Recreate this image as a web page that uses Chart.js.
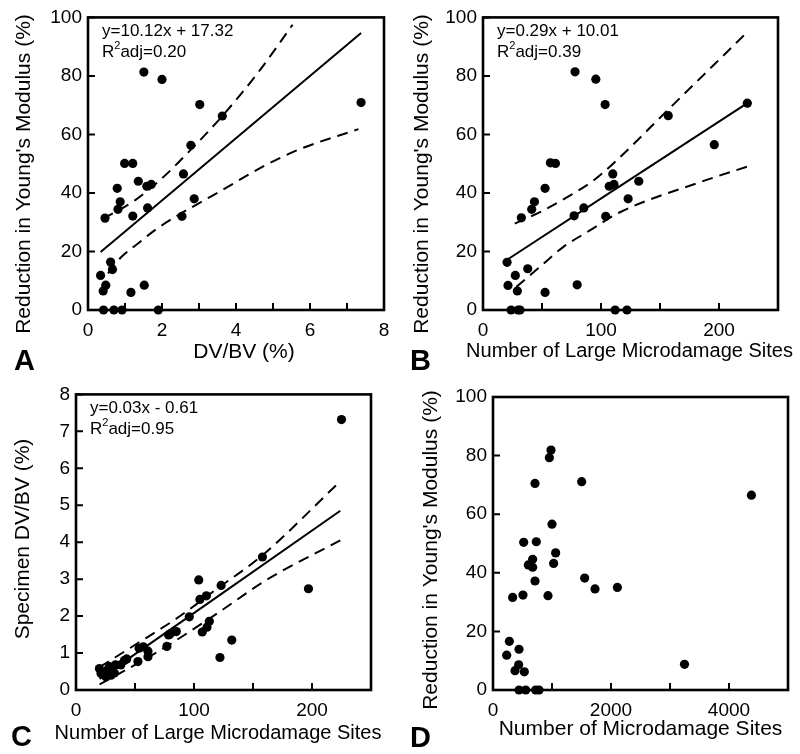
<!DOCTYPE html>
<html>
<head>
<meta charset="utf-8">
<script src="https://cdn.jsdelivr.net/npm/chart.js@4/dist/chart.umd.min.js"></script>
<style>
  body { margin: 0; background: #fff; }
  #wrap { position: relative; width: 800px; height: 754px; }
  canvas { position: absolute; }
  .tag { position: absolute; font: bold 29px 'Liberation Sans', Arial, sans-serif; line-height: 1; color: #000; }
</style>
</head>
<body>
<div id="wrap">
  <canvas id="chartA" width="400" height="377" style="left:0;top:0"></canvas>
  <canvas id="chartB" width="400" height="377" style="left:400px;top:0"></canvas>
  <canvas id="chartC" width="400" height="377" style="left:0;top:377px"></canvas>
  <canvas id="chartD" width="400" height="377" style="left:400px;top:377px"></canvas>
  <div class="tag" style="left:14px;top:346px">A</div>
  <div class="tag" style="left:410px;top:346px">B</div>
  <div class="tag" style="left:11px;top:722px">C</div>
  <div class="tag" style="left:410px;top:723px">D</div>
</div>
<script>
// Panel A: DV/BV vs reduction in modulus
const dvbvA = [1.51, 2.00, 3.02, 7.38, 3.63, 2.78, 0.99, 1.21, 2.58, 1.36, 1.59, 1.71, 0.79, 0.87, 0.81, 1.61, 2.87, 0.46, 1.21, 2.54, 0.61, 0.66, 0.34, 0.48, 0.41, 1.16, 1.52, 0.42, 0.70, 0.92, 1.90];
const modA = [81.3, 78.8, 70.2, 70.9, 66.3, 56.3, 50.1, 50.1, 46.5, 44.0, 42.3, 42.9, 41.6, 37.0, 34.4, 34.9, 38.0, 31.4, 32.1, 32.0, 16.4, 13.8, 11.8, 8.5, 6.5, 6.0, 8.5, 0, 0, 0, 0];
const fitAx = [0.34, 7.38], fitAy = [19.8, 94.7];
const upAx = [0.41, 1.26, 2.0, 2.78, 3.63, 4.6, 5.53], upAy = [31.2, 37.4, 45.0, 54.8, 66.3, 81.2, 97.5];
const loAx = [0.54, 0.9, 1.35, 1.8, 2.34, 2.97, 3.6, 4.8, 5.73, 7.31], loAy = [12.5, 18.1, 22.7, 27.2, 31.7, 36.3, 40.8, 49.5, 55.0, 61.8];

// Panel B: large microdamage sites vs reduction in modulus
const largeB = [78, 95.6, 103.5, 224, 157, 196, 57.1, 61.4, 110, 132, 107, 111, 52.6, 43.6, 41.3, 85.4, 123, 32.5, 77.2, 104, 20.4, 37.9, 27.4, 21.2, 29.1, 52.6, 79.8, 23.8, 29.7, 31.4, 112, 122];
const modB = [81.4, 78.9, 70.2, 70.7, 66.4, 56.5, 50.3, 50.1, 46.5, 44.0, 42.3, 42.9, 41.6, 37.0, 34.4, 34.9, 38.0, 31.5, 32.2, 32.0, 16.3, 14.1, 11.8, 8.4, 6.5, 6.0, 8.6, 0, 0, 0, 0, 0];
const fitBx = [19.8, 224], fitBy = [17.0, 70.7];
const upBx = [26.9, 50.9, 73.6, 93.4, 110, 157, 224], upBy = [29.5, 34.0, 39.1, 44.2, 49.9, 68.5, 95.0];
const loBx = [28.3, 48.1, 67.9, 90.6, 116, 184, 224], loBy = [7.9, 14.7, 21.5, 27.2, 33.4, 43.7, 49.0];

// Panel C: large microdamage sites vs DV/BV
const largeC = [225, 158, 104, 197, 123, 105, 110.5, 96, 113, 111, 107, 132, 122, 85, 78.5, 80, 77, 53.5, 57, 61, 61, 52.5, 43, 41, 38, 33.5, 32.5, 28.2, 26.8, 19.8, 21.2, 25.4, 29.7];
const dvbvC = [7.32, 3.60, 2.98, 2.74, 2.83, 2.45, 2.55, 1.98, 1.86, 1.70, 1.57, 1.35, 0.88, 1.58, 1.49, 1.52, 1.18, 1.13, 1.17, 1.05, 0.90, 0.77, 0.84, 0.80, 0.68, 0.68, 0.46, 0.63, 0.54, 0.58, 0.45, 0.36, 0.40];
const fitCx = [20, 224], fitCy = [0.30, 4.85];
const upCx = [20, 60, 85, 120, 157, 224], upCy = [0.62, 1.42, 1.93, 2.75, 3.62, 5.65];
const loCx = [20, 70, 120, 160, 224], loCy = [0.15, 1.05, 2.08, 2.95, 4.05];

// Panel D: all microdamage sites vs reduction in modulus
const sitesD = [983, 955, 712, 1503, 4380, 1000, 520, 734, 1062, 672, 599, 672, 1028, 712, 1554, 1729, 2108, 333, 508, 932, 277, 441, 232, 435, 373, 531, 3246, 441, 554, 723, 780];
const modD = [81.9, 79.3, 70.5, 71.1, 66.5, 56.6, 50.4, 50.6, 46.8, 44.6, 42.7, 41.9, 43.2, 37.2, 38.2, 34.5, 35.0, 31.6, 32.4, 32.2, 16.6, 13.9, 11.9, 8.6, 6.6, 6.2, 8.75, 0, 0, 0, 0];

const FONT = "'Liberation Sans', Arial, sans-serif";
const modTitle = "Reduction in Young's Modulus (%)";

function pts(xs, ys) {
  return xs.map((x, i) => ({ x: x, y: ys[i] }));
}

// box around plot + ticks pointing inward
const framePlugin = {
  id: 'frame',
  afterDraw(chart) {
    const { ctx, chartArea: a, scales } = chart;
    ctx.save();
    ctx.strokeStyle = '#000';
    ctx.lineWidth = 2;
    ctx.beginPath();
    scales.x.ticks.forEach(t => {
      const px = scales.x.getPixelForValue(t.value);
      ctx.moveTo(px, a.bottom);
      ctx.lineTo(px, a.bottom - 7);
    });
    scales.y.ticks.forEach(t => {
      const py = scales.y.getPixelForValue(t.value);
      ctx.moveTo(a.left, py);
      ctx.lineTo(a.left + 7, py);
    });
    ctx.stroke();
    ctx.lineWidth = 2.6;
    ctx.strokeRect(a.left, a.top, a.right - a.left, a.bottom - a.top);
    ctx.restore();
  }
};

// axis titles drawn at full width (they run past the plot box in the original)
const titlePlugin = {
  id: 'axisTitles',
  afterDraw(chart, args, o) {
    if (!o.x) return;
    const ctx = chart.ctx;
    ctx.save();
    ctx.fillStyle = '#000';
    ctx.textAlign = 'center';
    ctx.textBaseline = 'middle';
    ctx.font = o.x.size + 'px ' + FONT;
    ctx.fillText(o.x.text, o.x.cx, o.x.cy);
    ctx.translate(o.y.cx, o.y.cy);
    ctx.rotate(-Math.PI / 2);
    ctx.font = o.y.size + 'px ' + FONT;
    ctx.fillText(o.y.text, 0, 0);
    ctx.restore();
  }
};

// regression equation text in upper-left corner
const eqPlugin = {
  id: 'eq',
  afterDraw(chart, args, opts) {
    if (!opts.line1) return;
    const { ctx, chartArea: a } = chart;
    const x = a.left + 14;
    ctx.save();
    ctx.fillStyle = '#000';
    ctx.textBaseline = 'alphabetic';
    ctx.font = '17px ' + FONT;
    ctx.fillText(opts.line1, x, a.top + 19);
    ctx.fillText('R', x, a.top + 40);
    let w = ctx.measureText('R').width;
    ctx.font = '11px ' + FONT;
    ctx.fillText('2', x + w, a.top + 32);
    w += ctx.measureText('2').width;
    ctx.font = '17px ' + FONT;
    ctx.fillText('adj=' + opts.r2, x + w, a.top + 40);
    ctx.restore();
  }
};

function lineSet(xs, ys, dashed) {
  return {
    data: pts(xs, ys),
    showLine: true,
    pointRadius: 0,
    borderColor: '#000',
    borderWidth: 2,
    borderDash: dashed ? [11, 7] : [],
    cubicInterpolationMode: 'monotone',
    clip: 6
  };
}

function dotSet(xs, ys) {
  return {
    data: pts(xs, ys),
    pointRadius: 4.6,
    pointBackgroundColor: '#000',
    pointBorderWidth: 0,
    showLine: false,
    clip: false
  };
}

function makeChart(id, p) {
  return new Chart(document.getElementById(id), {
    type: 'scatter',
    data: { datasets: p.datasets },
    options: {
      responsive: false,
      animation: false,
      events: [],
      layout: { padding: { left: 0, right: p.padR, top: p.padT, bottom: 0 } },
      plugins: {
        legend: { display: false },
        tooltip: { enabled: false },
        eq: p.eq || {},
        axisTitles: p.titles
      },
      scales: {
        x: {
          type: 'linear', min: p.xMin, max: p.xMax,
          border: { display: false },
          grid: { display: false, drawTicks: false },
          ticks: {
            stepSize: p.xStep, autoSkip: false, maxRotation: 0, padding: 9,
            color: '#000', font: { family: FONT, size: 19 },
            callback: v => (Math.abs(v % p.xLabelStep) < 1e-9 ? String(v) : '')
          },
          afterFit: s => { s.height = p.xh; }
        },
        y: {
          type: 'linear', min: p.yMin, max: p.yMax,
          border: { display: false },
          grid: { display: false, drawTicks: false },
          ticks: {
            stepSize: p.yStep, autoSkip: false, padding: 6,
            color: '#000', font: { family: FONT, size: 19 }
          },
          afterFit: s => { s.width = p.yw; }
        }
      }
    },
    plugins: [framePlugin, eqPlugin, titlePlugin]
  });
}

makeChart('chartA', {
  datasets: [lineSet(fitAx, fitAy, false), lineSet(upAx, upAy, true), lineSet(loAx, loAy, true), dotSet(dvbvA, modA)],
  xMin: 0, xMax: 8, xStep: 1, xLabelStep: 2, yMin: 0, yMax: 100, yStep: 20,
  padT: 16, padR: 16, xh: 67, yw: 88,
  titles: { x: { text: 'DV/BV (%)', cx: 244, cy: 352, size: 21 }, y: { text: modTitle, cx: 24, cy: 174, size: 21 } },
  eq: { line1: 'y=10.12x + 17.32', r2: '0.20' }
});

makeChart('chartB', {
  datasets: [lineSet(fitBx, fitBy, false), lineSet(upBx, upBy, true), lineSet(loBx, loBy, true), dotSet(largeB, modB)],
  xMin: 0, xMax: 250, xStep: 50, xLabelStep: 100, yMin: 0, yMax: 100, yStep: 20,
  padT: 16, padR: 22, xh: 67, yw: 83,
  titles: { x: { text: 'Number of Large Microdamage Sites', cx: 229.5, cy: 351, size: 20 }, y: { text: modTitle, cx: 22, cy: 174, size: 21 } },
  eq: { line1: 'y=0.29x + 10.01', r2: '0.39' }
});

makeChart('chartC', {
  datasets: [lineSet(fitCx, fitCy, false), lineSet(upCx, upCy, true), lineSet(loCx, loCy, true), dotSet(largeC, dvbvC)],
  xMin: 0, xMax: 250, xStep: 50, xLabelStep: 100, yMin: 0, yMax: 8, yStep: 1,
  padT: 17, padR: 29, xh: 64, yw: 76,
  titles: { x: { text: 'Number of Large Microdamage Sites', cx: 218, cy: 356, size: 20 }, y: { text: 'Specimen DV/BV (%)', cx: 23, cy: 162, size: 21 } },
  eq: { line1: 'y=0.03x - 0.61', r2: '0.95' }
});

makeChart('chartD', {
  datasets: [dotSet(sitesD, modD)],
  xMin: 0, xMax: 5000, xStep: 1000, xLabelStep: 2000, yMin: 0, yMax: 100, yStep: 20,
  padT: 20, padR: 12, xh: 64, yw: 93,
  titles: { x: { text: 'Number of Microdamage Sites', cx: 240.5, cy: 352, size: 21 }, y: { text: modTitle, cx: 31, cy: 173, size: 21 } }
});
</script>
</body>
</html>
